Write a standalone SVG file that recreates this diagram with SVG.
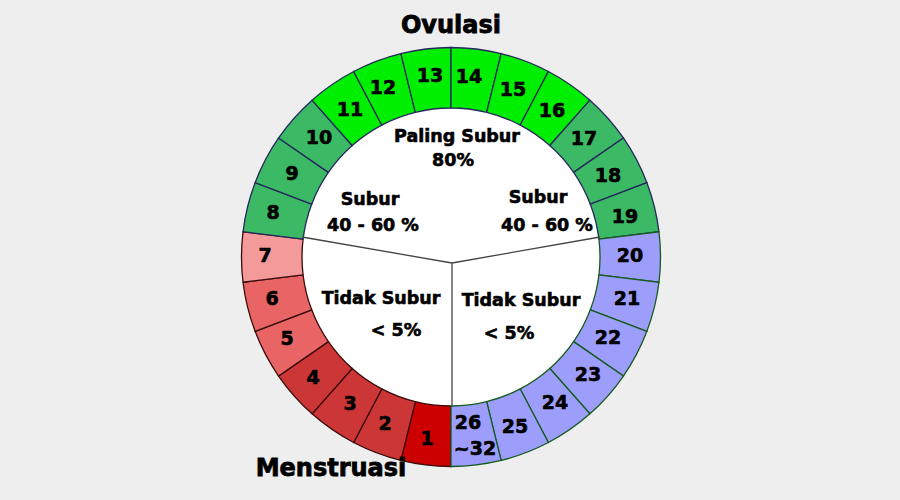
<svg xmlns="http://www.w3.org/2000/svg" xmlns:xlink="http://www.w3.org/1999/xlink" width="900" height="500" viewBox="0 0 900 500">
<defs>
<path id="seg" d="M0,149 L0,209.5 A209.5,209.5 0 0 1 -50.138,203.412 L-35.659,144.670 A149,149 0 0 0 0,149 Z"/>
</defs>
<style>
text{font-family:"DejaVu Sans","Liberation Sans",sans-serif;font-weight:bold;fill:#000;stroke:#000;stroke-width:0.6;text-anchor:middle}
.n{font-size:19px}
.t{font-size:17.5px}
.h{font-size:24px;stroke-width:0.8}
.r1{fill:#cc0000;stroke:#3a0a0a;stroke-width:1.3}
.r2{fill:#cc3636;stroke:#3a0a0a;stroke-width:1.3}
.r3{fill:#e96565;stroke:#3a0a0a;stroke-width:1.3}
.r4{fill:#f59a9a;stroke:#3a0a0a;stroke-width:1.3}
.g1{fill:#3cb965;stroke:#25285e;stroke-width:1.3}
.g2{fill:#00ee00;stroke:#25285e;stroke-width:1.3}
.b1{fill:#9d9dfb;stroke:#155a1e;stroke-width:1.3}
.div{stroke:#444;stroke-width:1.3;fill:none}
</style>
<rect width="900" height="500" fill="#eeeeee"/>
<circle cx="451" cy="257" r="149" fill="#ffffff"/>
<g id="ring" transform="translate(451,257)">
<g id="d1"><use xlink:href="#seg" class="r1" transform="rotate(0)"/></g>
<g id="d2"><use xlink:href="#seg" class="r2" transform="rotate(13.846)"/></g>
<g id="d3"><use xlink:href="#seg" class="r2" transform="rotate(27.692)"/></g>
<g id="d4"><use xlink:href="#seg" class="r2" transform="rotate(41.538)"/></g>
<g id="d5"><use xlink:href="#seg" class="r3" transform="rotate(55.385)"/></g>
<g id="d6"><use xlink:href="#seg" class="r3" transform="rotate(69.231)"/></g>
<g id="d7"><use xlink:href="#seg" class="r4" transform="rotate(83.077)"/></g>
<g id="d8"><use xlink:href="#seg" class="g1" transform="rotate(96.923)"/></g>
<g id="d9"><use xlink:href="#seg" class="g1" transform="rotate(110.769)"/></g>
<g id="d10"><use xlink:href="#seg" class="g1" transform="rotate(124.615)"/></g>
<g id="d11"><use xlink:href="#seg" class="g2" transform="rotate(138.462)"/></g>
<g id="d12"><use xlink:href="#seg" class="g2" transform="rotate(152.308)"/></g>
<g id="d13"><use xlink:href="#seg" class="g2" transform="rotate(166.154)"/></g>
<g id="d14"><use xlink:href="#seg" class="g2" transform="rotate(180)"/></g>
<g id="d15"><use xlink:href="#seg" class="g2" transform="rotate(193.846)"/></g>
<g id="d16"><use xlink:href="#seg" class="g2" transform="rotate(207.692)"/></g>
<g id="d17"><use xlink:href="#seg" class="g1" transform="rotate(221.538)"/></g>
<g id="d18"><use xlink:href="#seg" class="g1" transform="rotate(235.385)"/></g>
<g id="d19"><use xlink:href="#seg" class="g1" transform="rotate(249.231)"/></g>
<g id="d20"><use xlink:href="#seg" class="b1" transform="rotate(263.077)"/></g>
<g id="d21"><use xlink:href="#seg" class="b1" transform="rotate(276.923)"/></g>
<g id="d22"><use xlink:href="#seg" class="b1" transform="rotate(290.769)"/></g>
<g id="d23"><use xlink:href="#seg" class="b1" transform="rotate(304.615)"/></g>
<g id="d24"><use xlink:href="#seg" class="b1" transform="rotate(318.462)"/></g>
<g id="d25"><use xlink:href="#seg" class="b1" transform="rotate(332.308)"/></g>
<g id="d26"><use xlink:href="#seg" class="b1" transform="rotate(346.154)"/></g>
</g>
<g id="numbers">
<text class="n" x="427" y="445">1</text>
<text class="n" x="385" y="430">2</text>
<text class="n" x="350" y="410">3</text>
<text class="n" x="313" y="384">4</text>
<text class="n" x="287" y="345">5</text>
<text class="n" x="272" y="305">6</text>
<text class="n" x="265" y="262">7</text>
<text class="n" x="273" y="219">8</text>
<text class="n" x="292" y="180">9</text>
<text class="n" x="319" y="144">10</text>
<text class="n" x="350" y="116">11</text>
<text class="n" x="383" y="94">12</text>
<text class="n" x="430" y="82">13</text>
<text class="n" x="469" y="83">14</text>
<text class="n" x="513" y="96">15</text>
<text class="n" x="552" y="117">16</text>
<text class="n" x="584" y="145">17</text>
<text class="n" x="608" y="182">18</text>
<text class="n" x="625" y="223">19</text>
<text class="n" x="630" y="262">20</text>
<text class="n" x="627" y="305">21</text>
<text class="n" x="608" y="344">22</text>
<text class="n" x="588" y="381">23</text>
<text class="n" x="555" y="409">24</text>
<text class="n" x="515" y="433">25</text>
<text class="n" x="468" y="429">26</text>
<text class="n" x="475" y="455">~32</text>
</g>
<g id="connectors">
<path class="div" d="M452,263 L302,237 M452,263 L600,237 M452,263 L452,406"/>
</g>
<g id="top-zone">
<text class="t" x="457" y="142">Paling Subur</text>
<text class="t" x="453" y="166">80%</text>
</g>
<g id="left-zone">
<text class="t" x="370" y="205">Subur</text>
<text class="t" x="373" y="231">40 - 60 %</text>
</g>
<g id="right-zone">
<text class="t" x="538" y="203">Subur</text>
<text class="t" x="547" y="231">40 - 60 %</text>
</g>
<g id="bottom-left-zone">
<text class="t" x="381" y="304">Tidak Subur</text>
<text class="t" x="396" y="336">&lt; 5%</text>
</g>
<g id="bottom-right-zone">
<text class="t" x="521" y="306">Tidak Subur</text>
<text class="t" x="509" y="339">&lt; 5%</text>
</g>
<g id="labels">
<text class="h" x="451" y="33">Ovulasi</text>
<text class="h" x="331" y="476">Menstruasi</text>
</g>
</svg>
